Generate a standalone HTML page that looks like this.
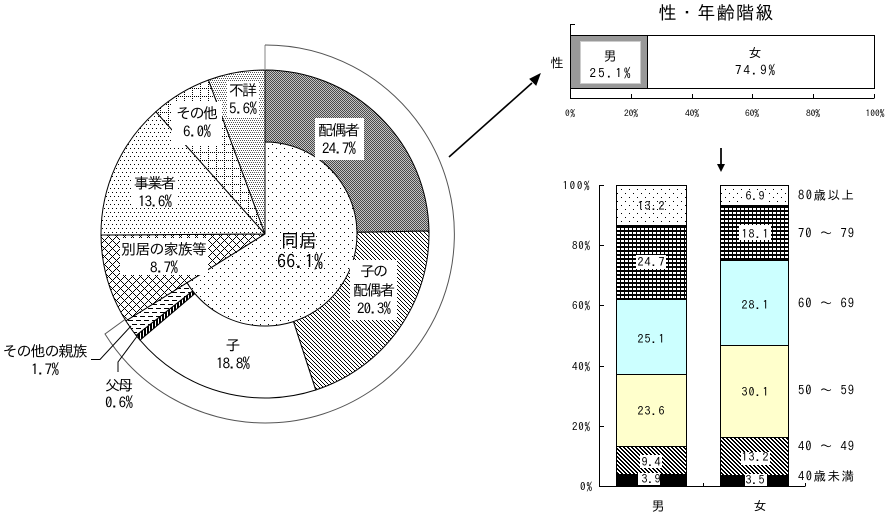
<!DOCTYPE html>
<html><head><meta charset="utf-8"><style>
html,body{margin:0;padding:0;background:#fff}
svg{display:block}
text{font-family:"IPAGothic","Noto Sans CJK JP",monospace;fill:#000;text-anchor:middle;dominant-baseline:central}
</style></head><body>
<svg width="886" height="514" viewBox="0 0 886 514" xmlns="http://www.w3.org/2000/svg">
<defs>
<pattern id="pc" width="2" height="2" patternUnits="userSpaceOnUse"><g shape-rendering="crispEdges"><rect width="2" height="2" fill="#c4c4c4"/><rect width="1" height="1" fill="#4a4a4a"/><rect x="1" y="1" width="1" height="1" fill="#4a4a4a"/></g></pattern>
<pattern id="ph" width="4" height="4" patternUnits="userSpaceOnUse"><g shape-rendering="crispEdges"><rect width="4" height="4" fill="#fff"/><rect width="1" height="1"/><rect x="1" y="1" width="1" height="1"/><rect x="2" y="2" width="1" height="1"/><rect x="3" y="3" width="1" height="1"/></g></pattern>
<pattern id="px" width="8" height="8" patternUnits="userSpaceOnUse"><g shape-rendering="crispEdges"><rect width="8" height="8" fill="#fff"/><rect x="0" y="0" width="1" height="1"/><rect x="1" y="1" width="1" height="1"/><rect x="2" y="2" width="1" height="1"/><rect x="3" y="3" width="1" height="1"/><rect x="4" y="4" width="1" height="1"/><rect x="5" y="5" width="1" height="1"/><rect x="6" y="6" width="1" height="1"/><rect x="7" y="7" width="1" height="1"/><rect x="7" y="1" width="1" height="1"/><rect x="6" y="2" width="1" height="1"/><rect x="5" y="3" width="1" height="1"/><rect x="3" y="5" width="1" height="1"/><rect x="2" y="6" width="1" height="1"/><rect x="1" y="7" width="1" height="1"/></g></pattern>
<pattern id="pb" width="4" height="8" patternUnits="userSpaceOnUse"><g shape-rendering="crispEdges"><rect width="4" height="8" fill="#fff"/><rect width="1" height="1"/><rect x="2" y="4" width="1" height="1"/></g></pattern>
<pattern id="pd" width="8" height="8" patternUnits="userSpaceOnUse"><g shape-rendering="crispEdges"><rect width="8" height="8" fill="#fff"/><rect width="1" height="1"/><rect x="4" y="4" width="1" height="1"/></g></pattern>
<pattern id="pf" width="4" height="4" patternUnits="userSpaceOnUse"><g shape-rendering="crispEdges"><rect width="4" height="4" fill="#fff"/><rect width="1" height="1" fill="#555"/><rect x="2" y="0" width="1" height="1" fill="#555"/><rect x="1" y="2" width="1" height="1" fill="#555"/><rect x="3" y="2" width="1" height="1" fill="#555"/></g></pattern>
<pattern id="pg" width="8" height="8" patternUnits="userSpaceOnUse"><g shape-rendering="crispEdges"><rect width="8" height="8" fill="#fff"/><rect width="1" height="1"/><rect x="2" width="1" height="1"/><rect x="4" width="1" height="1"/><rect x="6" width="1" height="1"/><rect y="2" width="1" height="1"/><rect y="4" width="1" height="1"/><rect y="6" width="1" height="1"/></g></pattern>
<pattern id="pv" width="3" height="3" patternUnits="userSpaceOnUse"><g shape-rendering="crispEdges"><rect width="3" height="3" fill="#fff"/><rect width="2" height="3"/></g></pattern>
<pattern id="pe" width="8" height="8" patternUnits="userSpaceOnUse"><g shape-rendering="crispEdges"><rect width="8" height="8" fill="#fff"/><rect width="5" height="1"/><rect x="4" y="4" width="4" height="1"/><rect y="4" width="1" height="1"/></g></pattern>
<pattern id="sd" width="8" height="8" patternUnits="userSpaceOnUse"><g shape-rendering="crispEdges"><rect width="8" height="8" fill="#fff"/><rect x="1" y="1" width="1" height="1"/><rect x="5" y="5" width="1" height="1"/></g></pattern>
<pattern id="sg" x="617" y="0" width="4" height="4" patternUnits="userSpaceOnUse"><g shape-rendering="crispEdges"><rect width="4" height="4" fill="#000"/><rect width="3" height="2" fill="#fff"/></g></pattern>
<pattern id="sh" width="4" height="4" patternUnits="userSpaceOnUse"><g shape-rendering="crispEdges"><rect width="4" height="4" fill="#fff"/><rect width="2" height="1"/><rect x="1" y="1" width="2" height="1"/><rect x="2" y="2" width="2" height="1"/><rect x="3" y="3" width="1" height="1"/><rect y="3" width="1" height="1"/></g></pattern>
</defs>

<!-- pie outer ring -->
<g stroke="#000" stroke-width="1">
<path d="M265,234L265,70A164,164 0 0 1 429,231Z" fill="url(#pc)"/>
<path d="M265,234L429,231A164,164 0 0 1 315.7,390Z" fill="url(#ph)"/>
<path d="M265,234L315.7,390A164,164 0 0 1 140,340.1Z" fill="#fff"/>
<path d="M265,234L140,340.1A164,164 0 0 1 136.1,335.4Z" fill="url(#pv)"/>
<path d="M265,234L136.1,335.4A164,164 0 0 1 125.9,320.9Z" fill="url(#pe)"/>
<path d="M265,234L125.9,320.9A164,164 0 0 1 101,235Z" fill="url(#px)"/>
<path d="M265,234L101,235A164,164 0 0 1 155.8,111.7Z" fill="url(#pb)"/>
<path d="M265,234L155.8,111.7A164,164 0 0 1 208.5,80Z" fill="url(#pg)"/>
<path d="M265,234L208.5,80A164,164 0 0 1 265,70Z" fill="url(#pf)"/>
<path d="M265,234L265,142A92,92 0 1 1 187,282.8Z" fill="url(#pd)"/>
</g>
<!-- bracket arc -->
<path d="M265,70L265,45" stroke="#999" stroke-width="1.2" fill="none"/>
<path d="M265,45A189,189 0 1 1 105,334L127,318" stroke="#555" stroke-width="1" fill="none"/>
<!-- leaders -->
<path d="M91,359.500L100,359.500L131,326" stroke="#000" fill="none"/>
<path d="M118,372L118,362L138,335" stroke="#000" fill="none"/>

<!-- label boxes -->
<g fill="#fff">
<rect x="227" y="81" width="32" height="36"/>
<rect x="172" y="102" width="50" height="43"/>
<rect x="132" y="175" width="46" height="33"/>
<rect x="120" y="238" width="88" height="37"/>
<rect x="315" y="118" width="49" height="42"/>
<rect x="350" y="260" width="47" height="60"/>
</g>
<g font-size="15">
<text x="243" y="90" textLength="28">不詳</text>
<text x="243" y="108" textLength="28">5.6%</text>
<text x="197" y="113" textLength="42">その他</text>
<text x="197" y="131" textLength="28">6.0%</text>
<text x="155" y="183" textLength="42">事業者</text>
<text x="155" y="201" textLength="34">13.6%</text>
<text x="164" y="249" textLength="86">別居の家族等</text>
<text x="164" y="267" textLength="28">8.7%</text>
<text x="339" y="130" textLength="42">配偶者</text>
<text x="339" y="148" textLength="34">24.7%</text>
<text x="374" y="271" textLength="28">子の</text>
<text x="374" y="290" textLength="42">配偶者</text>
<text x="374" y="308" textLength="34">20.3%</text>
<text x="233" y="345">子</text>
<text x="233" y="363" textLength="34">18.8%</text>
<text x="45" y="351" textLength="85">その他の親族</text>
<text x="45" y="369" textLength="28">1.7%</text>
<text x="119" y="385" textLength="28">父母</text>
<text x="119" y="402" textLength="28">0.6%</text>
</g>
<text x="299" y="241" font-size="18" textLength="36">同居</text>
<text x="300" y="262" font-size="18" textLength="46">66.1%</text>

<!-- arrows -->
<path d="M449,157L532,83" stroke="#000" stroke-width="1.6" fill="none"/>
<path d="M540,74L530,79L536,85Z" fill="#000" stroke="#000" stroke-width="1"/>
<path d="M721,148L721,165" stroke="#222" stroke-width="2" fill="none"/>
<path d="M717,164L725,164L721,172Z" fill="#000"/>

<!-- top bar -->
<text x="716" y="13" font-size="18" textLength="115">性・年齢階級</text>
<text x="557" y="63" font-size="13">性</text>
<g shape-rendering="crispEdges">
<path d="M570.500,24L570.500,98.500L874.500,98.500M570.500,24.500L575,24.500" stroke="#000" fill="none"/>
<path d="M631.500,94L631.500,98M692.500,94L692.500,98M752.500,94L752.500,98M813.500,94L813.500,98M874.500,94L874.500,98" stroke="#000" fill="none"/>
<rect x="570.500" y="35.500" width="304" height="53" fill="#fff" stroke="#000"/>
<rect x="571" y="36" width="76" height="52" fill="#999"/>
<rect x="580.500" y="41.500" width="60" height="42" fill="#fff" stroke="#ccc"/>
<path d="M647.500,35L647.500,88" stroke="#000"/>
</g>
<text x="610" y="56" font-size="13">男</text>
<text x="610" y="73" font-size="13" textLength="41">25.1%</text>
<text x="755" y="53" font-size="13">女</text>
<text x="755" y="70" font-size="13" textLength="40">74.9%</text>
<g font-size="9.500">
<text x="570" y="114" textLength="10">0%</text><text x="631" y="114" textLength="14">20%</text><text x="692" y="114" textLength="14">40%</text><text x="752" y="114" textLength="14">60%</text><text x="813" y="114" textLength="14">80%</text><text x="875" y="114" textLength="19">100%</text>
</g>

<!-- stacked axes -->
<g shape-rendering="crispEdges" stroke="#000" fill="none">
<path d="M599.500,185L599.500,486.500L805.500,486.500M805.500,483L805.500,486M703.500,483L703.500,486"/>
<path d="M600,185.500L604,185.500M600,245.500L604,245.500M600,305.500L604,305.500M600,366.500L604,366.500M600,426.500L604,426.500"/>
</g>
<g font-size="11">
<text x="576" y="186" textLength="27">100%</text><text x="581" y="246" textLength="18">80%</text><text x="581" y="306" textLength="18">60%</text><text x="581" y="367" textLength="18">40%</text><text x="581" y="427" textLength="18">20%</text><text x="586" y="487" textLength="12">0%</text>
</g>

<!-- bars -->
<g shape-rendering="crispEdges" stroke="#000">
<rect x="616.500" y="185.500" width="70" height="40" fill="url(#sd)"/>
<rect x="616.500" y="225.500" width="70" height="74" fill="url(#sg)"/>
<rect x="616.500" y="299.500" width="70" height="75" fill="#ccffff"/>
<rect x="616.500" y="374.500" width="70" height="72" fill="#ffffcc"/>
<rect x="616.500" y="446.500" width="70" height="28" fill="url(#sh)"/>
<rect x="616.500" y="474.500" width="70" height="12" fill="#000"/>
<rect x="720.500" y="185.500" width="68" height="20" fill="url(#sd)"/>
<rect x="720.500" y="205.500" width="68" height="55" fill="url(#sg)"/>
<rect x="720.500" y="260.500" width="68" height="85" fill="#ccffff"/>
<rect x="720.500" y="345.500" width="68" height="92" fill="#ffffcc"/>
<rect x="720.500" y="437.500" width="68" height="38" fill="url(#sh)"/>
<rect x="720.500" y="475.500" width="68" height="11" fill="#000"/>
</g>
<g fill="#fff">
<rect x="636" y="255" width="30" height="14"/>
<rect x="640" y="455" width="22" height="13"/>
<rect x="638" y="473" width="22" height="12"/>
<rect x="744" y="190" width="22" height="13"/>
<rect x="739" y="225" width="32" height="15"/>
<rect x="741" y="452" width="29" height="13"/>
<rect x="745" y="474" width="22" height="12"/>
</g>
<g font-size="12">
<text x="651" y="206" textLength="27">13.2</text>
<text x="651" y="262" textLength="27">24.7</text>
<text x="651" y="339" textLength="27">25.1</text>
<text x="651" y="411" textLength="27">23.6</text>
<text x="651" y="462" textLength="19">9.4</text>
<text x="651" y="479" textLength="19">3.9</text>
<text x="755" y="196" textLength="19">6.9</text>
<text x="755" y="234" textLength="27">18.1</text>
<text x="755" y="305" textLength="27">28.1</text>
<text x="755" y="392" textLength="27">30.1</text>
<text x="755" y="457" textLength="27">13.2</text>
<text x="755" y="480" textLength="19">3.5</text>
</g>
<g font-size="12.500">
<text x="826" y="195" textLength="56">80歳以上</text>
<text x="826" y="233" textLength="56">70 ～ 79</text>
<text x="826" y="303" textLength="56">60 ～ 69</text>
<text x="826" y="390" textLength="56">50 ～ 59</text>
<text x="826" y="446" textLength="56">40 ～ 49</text>
<text x="826" y="476" textLength="56">40歳未満</text>
</g>
<text x="658" y="506" font-size="13">男</text>
<text x="760" y="506" font-size="13">女</text>
</svg>
</body></html>
